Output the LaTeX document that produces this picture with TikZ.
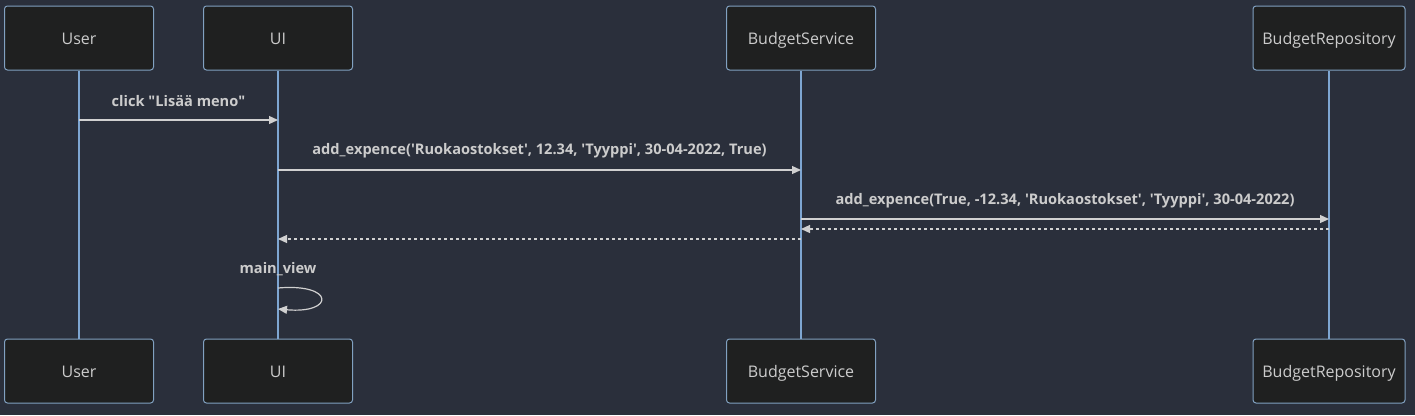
\documentclass[tikz,border=0pt]{standalone}
\usepackage{fontspec}
\setmainfont{Open Sans}
\usetikzlibrary{arrows.meta}
\definecolor{bg}{HTML}{2A2F3B}
\definecolor{boxfill}{HTML}{1F2020}
\definecolor{boxline}{HTML}{81A1C1}
\definecolor{life}{HTML}{7EA6D2}
\definecolor{txt}{HTML}{CCCCCC}
\definecolor{msg}{HTML}{D0D0D0}
\newcommand{\sq}{\textquotesingle}
\newcommand{\dq}{\textquotedbl}
\begin{document}
\begin{tikzpicture}[x=1pt,y=-1pt,
  actor/.style={draw=boxline,fill=boxfill,rounded corners=3pt,line width=1pt,minimum height=64pt,inner sep=0pt,text height=13pt,text depth=0pt,text=txt,font=\fontsize{16}{19}\selectfont},
  lifeline/.style={draw=life,line width=1.6pt},
  msgline/.style={draw=msg,line width=1.2pt,-{Triangle[length=9pt,width=8pt]}},
  retline/.style={msgline,dash pattern=on 3pt off 3pt},
  lbl/.style={text=txt,font=\bfseries\fontsize{14.6}{17}\selectfont,inner sep=0pt}]
\fill[bg] (0,0) rectangle (1415,415);
\useasboundingbox (0,0) rectangle (1415,415);
% top actors
\node[actor,minimum width=149pt] (userT) at (79,38) {User};
\node[actor,minimum width=149pt] (uiT) at (278,38) {UI};
\node[actor,minimum width=149pt] (bsT) at (801,38) {BudgetService};
\node[actor,minimum width=152pt] (brT) at (1329,38) {BudgetRepository};
% bottom actors
\node[actor,minimum width=149pt] (userB) at (79,371) {User};
\node[actor,minimum width=149pt] (uiB) at (278,371) {UI};
\node[actor,minimum width=149pt] (bsB) at (801,371) {BudgetService};
\node[actor,minimum width=152pt] (brB) at (1329,371) {BudgetRepository};
% lifelines
\draw[lifeline] (userT.south) -- (userB.north);
\draw[lifeline] (uiT.south) -- (uiB.north);
\draw[lifeline] (bsT.south) -- (bsB.north);
\draw[lifeline] (brT.south) -- (brB.north);
% message anchors
\coordinate (m1s) at (79,120); \coordinate (m1e) at (278,120);
\coordinate (m2s) at (278,170); \coordinate (m2e) at (801,170);
\coordinate (m3s) at (801,219); \coordinate (m3e) at (1329,219);
\coordinate (r1s) at (1329,229); \coordinate (r1e) at (801,229);
\coordinate (r2s) at (801,239); \coordinate (r2e) at (278,239);
\coordinate (l1s) at (278,288); \coordinate (l1e) at (278,309);
\draw[msgline] (m1s) -- (m1e);
\node[lbl] at (178.5,101.5) {click \dq Lisää meno\dq};
\draw[msgline] (m2s) -- (m2e);
\node[lbl] at (539.5,150.5) {add\_expence(\sq Ruokaostokset\sq, 12.34, \sq Tyyppi\sq, 30-04-2022, True)};
\draw[msgline] (m3s) -- (m3e);
\node[lbl] at (1065,200.5) {add\_expence(True, -12.34, \sq Ruokaostokset\sq, \sq Tyyppi\sq, 30-04-2022)};
\draw[retline] (r1s) -- (r1e);
\draw[retline] (r2s) -- (r2e);
\node[lbl] at (278,269.5) {main\_view};
\draw[msgline] (l1s) .. controls (335,283) and (335,314) .. (l1e);
\end{tikzpicture}
\end{document}
